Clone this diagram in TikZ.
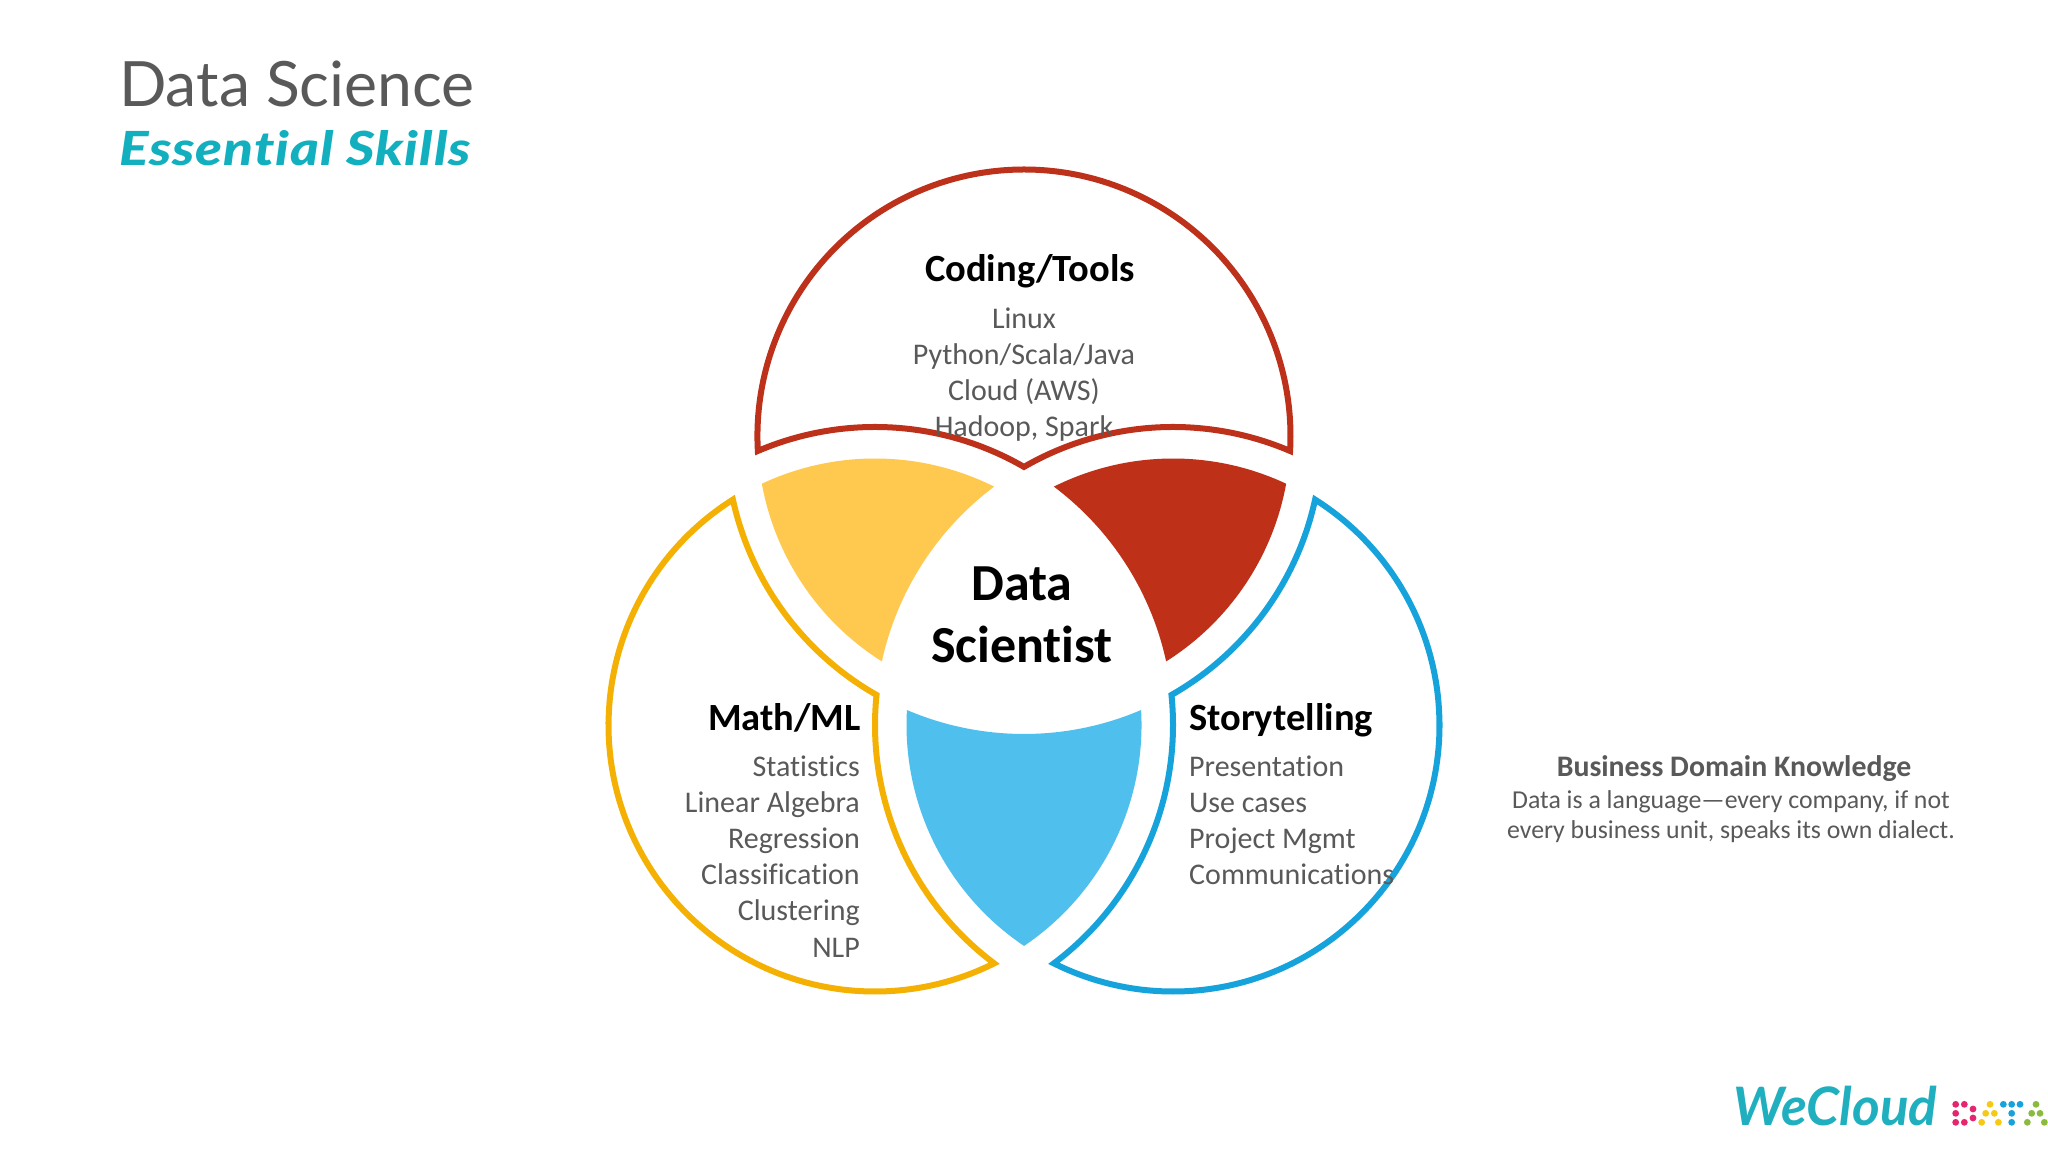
\documentclass[tikz,border=0pt]{standalone}
\usepackage{fontspec}
\setmainfont{Carlito}[Ligatures=NoCommon]
\newfontfamily\titlefont{Lato}
\newfontfamily\skillsfont{Lato Black Italic}[Ligatures=NoCommon,FakeStretch=1.17,LetterSpace=2]
\newfontfamily\logofont{Lato Bold Italic}[Ligatures=NoCommon]
\definecolor{redline}{HTML}{BD3019}
\definecolor{yelline}{HTML}{F5B103}
\definecolor{bluline}{HTML}{16A3DC}
\definecolor{yelfill}{HTML}{FFC94F}
\definecolor{redfill}{HTML}{BE3018}
\definecolor{blufill}{HTML}{4FBFEE}
\definecolor{bodygray}{HTML}{595959}
\definecolor{teal}{HTML}{12AFBF}
\definecolor{logoteal}{HTML}{1FAFBE}
\definecolor{dotpink}{HTML}{E5266E}
\definecolor{dotyel}{HTML}{F6C915}
\definecolor{dotblue}{HTML}{16A3DC}
\definecolor{dotgreen}{HTML}{8ABB3C}
\tikzset{
  outline/.style={line width=6pt,fill=white,miter limit=10},
  head/.style={inner sep=0pt,font=\fontsize{38.5}{42}\selectfont\bfseries,text=black},
  body/.style={inner sep=0pt,font=\fontsize{30}{36.2}\selectfont,text=bodygray},
  centre/.style={inner sep=0pt,align=center,font=\fontsize{52}{62}\selectfont\bfseries,text=black}
}
\begin{document}
\begin{tikzpicture}[x=1pt,y=1pt]
\useasboundingbox[fill=white] (0,0) rectangle (2048,1152);
\coordinate (R) at (1024,716);
\coordinate (Y) at (875,427);
\coordinate (B) at (1173,427);
\def\ra{266.5}
\def\rb{298}
% fills
\fill[yelfill] (Y) ++(115.14:\ra) arc[start angle=115.14,end angle=63.44,radius=\ra]
  arc[start angle=126.88,end angle=167.68,radius=\rb]
  arc[start angle=237.76,end angle=190.32,radius=\ra] -- cycle;
\fill[redfill] (B) ++(64.86:\ra) arc[start angle=64.86,end angle=116.56,radius=\ra]
  arc[start angle=53.12,end angle=12.32,radius=\rb]
  arc[start angle=-57.76,end angle=-10.32,radius=\ra] -- cycle;
\fill[blufill] (R) ++(246.86:\rb) arc[start angle=246.86,end angle=293.14,radius=\rb]
  arc[start angle=3.22,end angle=-56.01,radius=\ra]
  arc[start angle=236.01,end angle=176.78,radius=\ra] -- cycle;
% outlines (each starts mid-arc so the closing join is smooth)
\draw[outline,draw=redline] (R) ++(90:\ra) arc[start angle=90,end angle=-3.22,radius=\ra]
  arc[start angle=66.86,end angle=120,radius=\rb]
  arc[start angle=60,end angle=113.14,radius=\rb]
  arc[start angle=183.22,end angle=90,radius=\ra] -- cycle;
\draw[outline,draw=yelline] (Y) ++(180:\ra) arc[start angle=180,end angle=296.56,radius=\ra]
  arc[start angle=233.12,end angle=174.21,radius=\rb]
  arc[start angle=240.33,end angle=192.32,radius=\rb]
  arc[start angle=122.24,end angle=180,radius=\ra] -- cycle;
\draw[outline,draw=bluline] (B) ++(0:\ra) arc[start angle=0,end angle=-116.56,radius=\ra]
  arc[start angle=-53.12,end angle=5.79,radius=\rb]
  arc[start angle=-60.33,end angle=-12.32,radius=\rb]
  arc[start angle=57.76,end angle=0,radius=\ra] -- cycle;
% title
\node[anchor=base west,inner sep=0pt,text=bodygray,font=\titlefont\fontsize{62.5}{70}\selectfont] (title) at (119,1045) {Data Science};
\node[anchor=base west,inner sep=0pt,text=teal,font=\skillsfont\fontsize{47}{56}\selectfont] (subtitle) at (119,986) {Essential Skills};
% circle texts
\node[head,anchor=base] (codinghead) at (1030,870.5) {Coding/Tools};
\node[body,anchor=base,align=center] (codingbody) at (1024,715) {Linux\\Python/Scala/Java\\Cloud (AWS)\\Hadoop, Spark};
\node[centre,anchor=base] (dshead) at (1022,489.5) {Data\\Scientist};
\node[head,anchor=base east] (mathhead) at (861,421.5) {Math/ML};
\node[body,anchor=base east,align=right] (mathbody) at (860,195) {Statistics\\Linear Algebra\\Regression\\Classification\\Clustering\\NLP};
\node[head,anchor=base west] (storyhead) at (1189,421.5) {Storytelling};
\node[body,anchor=base west,align=left] (storybody) at (1189,267) {Presentation\\Use cases\\Project Mgmt\\Communications};
% side text
\node[anchor=base,inner sep=0pt,text=bodygray,font=\fontsize{29.8}{30}\selectfont\bfseries] (domainhead) at (1734,375) {Business Domain Knowledge};
\node[anchor=base,inner sep=0pt,text=bodygray,align=center,font=\fontsize{25.8}{30}\selectfont] (domainbody) at (1731,313) {Data is a language—every company, if not\\every business unit, speaks its own dialect.};
% logo
\node[anchor=base west,inner sep=0pt,text=logoteal,font=\logofont\fontsize{53}{60}\selectfont] (logo) at (1733,27) {WeCloud};
\foreach \c/\l in {dotpink/{767/163,793/163,767/190,819/177,767/217,793/217,819/204},
  dotyel/{870/163,857/190,883/190,845/217,895/217},
  dotblue/{910/163,935/163,960/163,935/190,935/217},
  dotgreen/{1008/163,995/190,1020/190,982/217,1033/217}}{
  \foreach \x/\y in \l { \fill[\c] ({1700+\x/3},{102-\y/3}) circle[radius=3.4]; }
}
\end{tikzpicture}
\end{document}
